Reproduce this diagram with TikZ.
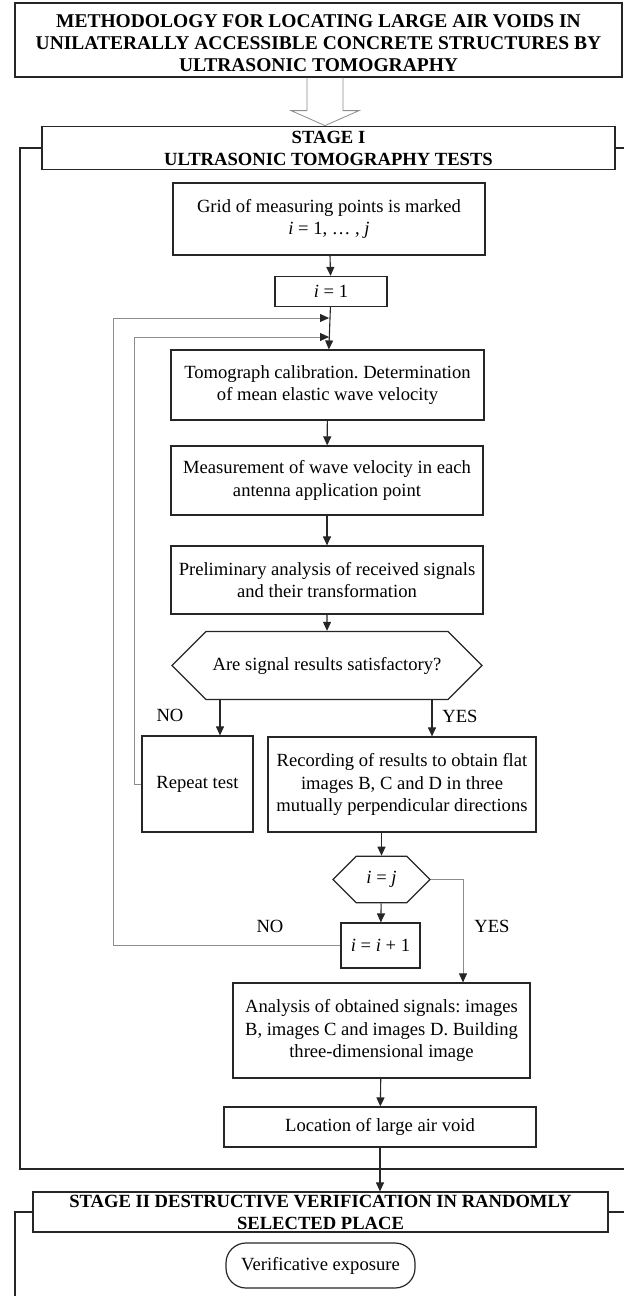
\documentclass[tikz,border=0pt]{standalone}
\usepackage{fontspec}
\setmainfont{Liberation Serif}
\usetikzlibrary{arrows.meta, positioning, shapes.misc}
\frenchspacing

\begin{document}
\begin{tikzpicture}[x=1pt, y=-1pt,
	font=\fontsize{18.6}{22.5}\selectfont,
	box/.style={draw=black!85, line width=1.2pt, align=center, inner sep=0pt},
	decision/.style={box, chamfered rectangle},
	head/.style={box, font=\fontsize{18.6}{22}\selectfont\bfseries},
	fback/.style={draw=black!45, line width=0.8pt, -{Triangle[length=9pt, width=8pt, color=black!85]}},
	frame/.style={draw=black!85, line width=1.2pt},
	hollow/.style={draw=black!45, line width=0.8pt},
]
\useasboundingbox (0,0) rectangle (624,1296);

	\node (title) [head, minimum width=607pt, minimum height=74pt, text height=68pt, text depth=6pt,
		font=\fontsize{19.5}{22}\selectfont\bfseries] at (318.5,40)
		{METHODOLOGY FOR LOCATING LARGE AIR VOIDS IN\\UNILATERALLY ACCESSIBLE CONCRETE STRUCTURES BY\\ULTRASONIC TOMOGRAPHY};
	\node (stage1) [head, minimum width=573pt, minimum height=43pt] at (328.5,148) {STAGE I\\ULTRASONIC TOMOGRAPHY TESTS};

	\node (grid) [box, minimum width=312pt, minimum height=72pt] at (329,219) {Grid of measuring points is marked\\\textit{i} = 1, \dots\ , \textit{j}};
	\node (i1) [box, minimum width=112pt, minimum height=30pt] at (331,291.5) {\textit{i} = 1};
	\node (calib) [box, minimum width=313pt, minimum height=70pt] at (327.5,385) {Tomograph calibration. Determination\\of mean elastic wave velocity};
	\node (meas) [box, minimum width=312pt, minimum height=69pt] at (327,480.5) {Measurement of wave velocity in each\\antenna application point};
	\node (prelim) [box, minimum width=312pt, minimum height=68pt] at (327,580) {Preliminary analysis of received signals\\and their transformation};
	\node (dec1) [decision, minimum width=310pt, minimum height=51pt, chamfered rectangle xsep=13pt, chamfered rectangle ysep=25.5pt] at (327,665.5) {Are signal results satisfactory?};
	\node (rep) [box, minimum width=111pt, minimum height=96pt] at (197.5,784) {Repeat test};
	\node (record) [box, minimum width=268pt, minimum height=95pt] at (402,784.5) {Recording of results to obtain flat\\images B, C and D in three\\mutually perpendicular directions};
	\node (dec2) [decision, minimum width=97pt, minimum height=45pt, chamfered rectangle xsep=17pt, chamfered rectangle ysep=22.5pt] at (381.5,879.5) {\textit{i} = \textit{j}};
	\node (incr) [box, minimum width=79pt, minimum height=45pt] at (380.5,945.5) {\textit{i} = \textit{i} + 1};
	\node (analysis) [box, minimum width=297pt, minimum height=95pt] at (381.5,1030.5) {Analysis of obtained signals: images\\B, images C and images D. Building\\three-dimensional image};
	\node (loc) [box, minimum width=312pt, minimum height=40pt] at (380,1127) {Location of large air void};

	\node (stage2) [head, minimum width=575pt, minimum height=40pt] at (320.5,1212) {STAGE II DESTRUCTIVE VERIFICATION IN RANDOMLY\\SELECTED PLACE};
	\node (verif) [box, rounded corners=20pt, minimum width=189pt, minimum height=45pt] at (320.5,1265.5) {Verificative exposure};

	\node (no1) at (170,715) {NO};
	\node (yes1) at (460,716) {YES};
	\node (no2) at (270,926) {NO};
	\node (yes2) at (492,926) {YES};

	\coordinate (join1) at (329,318);
	\coordinate (join2) at (329,337);
	\coordinate (noin) at ([xshift=22.5pt]rep.north);
	\coordinate (yesin) at ([xshift=30pt]record.north);
	\coordinate (anin) at ([xshift=81.5pt]analysis.north);

% stage arrow
\draw [hollow] ([xshift=-11.5pt]title.south) -- ++(0,33) -- ++(-16,0) -- ++(34,15) -- ++(34,-15) -- ++(-16,0) -- ++(0,-33);

\path [-{Triangle[length=9pt, width=8pt]}, black!85, line width=1.1pt]
	(grid) edge (i1)
	(i1) edge (calib)
	(calib) edge (meas)
	(meas) edge (prelim)
	(prelim) edge (dec1)
	(noin |- dec1.south) edge (noin)
	(yesin |- dec1.south) edge (yesin)
	(dec2.north |- record.south) edge (dec2.north)
	(dec2) edge (incr)
	(analysis) edge (loc)
	(loc.south) edge (loc.south |- stage2.north);

% loops back
\draw [fback] (incr.west) -| (113,318) -- (join1);
\draw [fback] (rep.west) -| (134,337) -- (join2);
\draw [fback] (dec2.east) -| (anin);

% stage frames
\draw [frame] (stage1.west) -- (20,148) -- (20,1169) -- (624,1169);
\draw [frame] (stage1.east) -- (624,148);
\draw [frame] (stage2.west) -- (15,1212) -- (15,1296);
\draw [frame] (stage2.east) -- (624,1212);
\end{tikzpicture}
\end{document}
